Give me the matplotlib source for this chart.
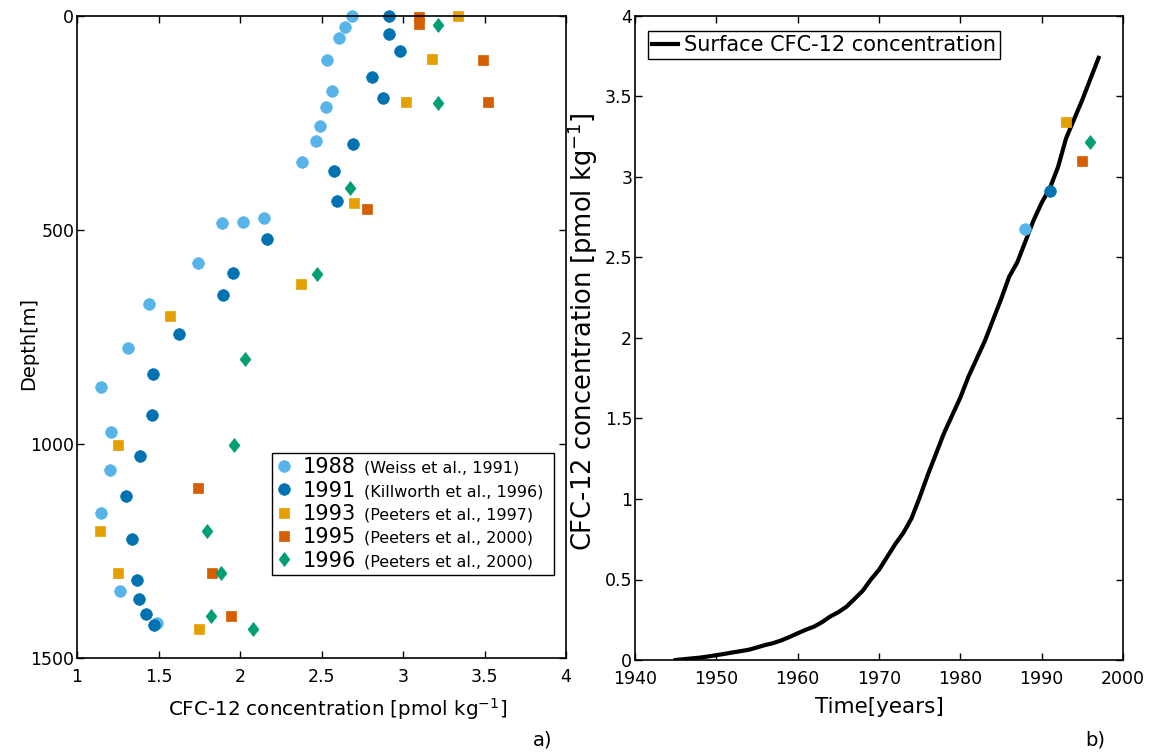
import matplotlib
matplotlib.use("Agg")
import matplotlib.pyplot as plt
from matplotlib.path import Path

plt.rcParams['font.family'] = ['DejaVu Sans']
plt.rcParams['mathtext.fontset'] = 'dejavusans'

# --- panel a) : CFC-12 profiles ---
conc88 = [2.685, 2.646, 2.609, 2.536, 2.564, 2.528, 2.49, 2.464, 2.378, 2.147, 2.018, 1.892,
          1.742, 1.444, 1.311, 1.149, 1.21, 1.204, 1.147, 1.262, 1.493]
depth88 = [0, 25, 51, 102, 176, 212, 257, 291, 342, 471, 481, 483,
           576, 672, 776, 867, 972, 1061, 1162, 1343, 1418]

conc91 = [2.912, 2.912, 2.98, 2.81, 2.875, 2.693, 2.579, 2.593, 2.164, 1.959, 1.894,
          1.628, 1.468, 1.46, 1.387, 1.303, 1.339, 1.37, 1.38, 1.423, 1.474]
depth91 = [0, 41, 82, 142, 191, 298, 362, 432, 521, 601, 652,
           742, 836, 932, 1028, 1122, 1223, 1318, 1363, 1397, 1422]

conc93 = [3.339, 3.176, 3.02, 2.699, 2.374, 1.571, 1.253, 1.141, 1.253, 1.75]
depth93 = [0, 101, 202, 436, 627, 702, 1002, 1203, 1302, 1433]

conc95 = [3.1, 3.1, 3.491, 3.522, 2.779, 1.74, 1.826, 1.945]
depth95 = [2, 19, 102, 202, 451, 1103, 1302, 1403]

conc96 = [3.217, 3.217, 2.677, 2.47, 2.031, 1.965, 1.8, 1.882, 1.82, 2.078]
depth96 = [21, 203, 402, 602, 802, 1002, 1203, 1302, 1403, 1433]

years = ['1988', '1991', '1993', '1995', '1996']
refs = ['(Weiss et al., 1991)', '(Killworth et al., 1996)', '(Peeters et al., 1997)',
        '(Peeters et al., 2000)', '(Peeters et al., 2000)']

# --- panel b) : surface history ---
t_surf = list(range(1945, 1998))
c_surf = [0.0, 0.005, 0.01, 0.015, 0.022, 0.03, 0.038, 0.047, 0.055, 0.064,
          0.078, 0.093, 0.105, 0.122, 0.143, 0.166, 0.188, 0.207, 0.235, 0.27,
          0.297, 0.331, 0.38, 0.43, 0.5, 0.56, 0.64, 0.72, 0.79, 0.88,
          1.01, 1.15, 1.28, 1.41, 1.52, 1.63, 1.76, 1.87, 1.98, 2.11,
          2.24, 2.38, 2.47, 2.6, 2.73, 2.84, 2.93, 3.06, 3.24, 3.36,
          3.48, 3.61, 3.74]
obs_year = [1988, 1991, 1993, 1995, 1996]
obs_conc = [2.68, 2.91, 3.34, 3.10, 3.22]

colors = ['#56B4E9', '#0072B2', '#E69F00', '#D55E00', '#009E73']
diamond = Path([(0, 1), (0.78, 0), (0, -1), (-0.78, 0), (0, 1)],
               [Path.MOVETO, Path.LINETO, Path.LINETO, Path.LINETO, Path.CLOSEPOLY])
markers = ['o', 'o', 's', 's', diamond]
msizes = [8.4, 8.4, 7.0, 7.0, 10.0]

fig = plt.figure(figsize=(11.51, 7.52), dpi=100)
ax1 = fig.add_axes([77/1151, 94/752, 489/1151, 642/752])
ax2 = fig.add_axes([635/1151, 92/752, 488/1151, 644/752])

profiles = [(conc88, depth88), (conc91, depth91), (conc93, depth93),
            (conc95, depth95), (conc96, depth96)]
for i, (c, d) in enumerate(profiles):
    ax1.plot(c, d, linestyle='none', marker=markers[i], ms=msizes[i], color=colors[i],
             mec=colors[i], mew=0.5, clip_on=False, label=years[i])

ax1.set_xlim(1, 4)
ax1.set_ylim(1500, 0)
ax1.set_xticks([1, 1.5, 2, 2.5, 3, 3.5, 4])
ax1.set_xticklabels(['1', '1.5', '2', '2.5', '3', '3.5', '4'])
ax1.set_yticks([0, 500, 1000, 1500])
ax1.set_xlabel('CFC-12 concentration [pmol kg$^{-1}$]', fontsize=14.3)
ax1.set_ylabel('Depth[m]', fontsize=14)
ax1.xaxis.set_label_coords(0.533, -0.06)
ax1.yaxis.set_label_coords(-0.08, 0.49)

leg1 = ax1.legend(loc='upper left', bbox_to_anchor=(0.399, 0.131, 0.576, 0.188), mode='expand',
                  fontsize=15, numpoints=1, handlelength=0.7, handletextpad=0.55,
                  labelspacing=0.16, borderpad=0.2, borderaxespad=0, fancybox=False,
                  framealpha=1, edgecolor='black')
leg1.get_frame().set_linewidth(1.0)
for txt, r in zip(leg1.get_texts(), refs):
    ax1.annotate(r, xy=(1, 0), xycoords=txt, xytext=(6, 1), textcoords='offset points',
                 fontsize=11.5, va='bottom', ha='left', zorder=10)

ax2.plot(t_surf, c_surf, color='black', lw=3, label='Surface CFC-12 concentration')
for i in range(len(obs_year)):
    ax2.plot(obs_year[i], obs_conc[i], linestyle='none', marker=markers[i], ms=msizes[i],
             color=colors[i], mec=colors[i], mew=0.5)
ax2.set_xlim(1940, 2000)
ax2.set_ylim(0, 4)
ax2.set_yticks([0, 0.5, 1, 1.5, 2, 2.5, 3, 3.5, 4])
ax2.set_yticklabels(['0', '0.5', '1', '1.5', '2', '2.5', '3', '3.5', '4'])
ax2.set_xlabel('Time[years]', fontsize=15.5)
ax2.set_ylabel('CFC-12 concentration [pmol kg$^{-1}$]', fontsize=18.5)
ax2.xaxis.set_label_coords(0.5, -0.058)
ax2.yaxis.set_label_coords(-0.072, 0.51)
leg2 = ax2.legend(handles=ax2.lines[:1], loc='upper left', bbox_to_anchor=(0.027, 0.977),
                  fontsize=15, handlelength=1.25, handletextpad=0.25, borderpad=0.2,
                  borderaxespad=0, fancybox=False, framealpha=1, edgecolor='black')
leg2.get_frame().set_linewidth(1.0)

for ax in (ax1, ax2):
    ax.tick_params(direction='in', top=True, right=True, length=5, width=1,
                   labelsize=12.5)
    ax.tick_params(axis='x', pad=7.5)
    ax.tick_params(axis='y', pad=2)
    for s in ax.spines.values():
        s.set_linewidth(1.2)

fig.text(543/1151, 1 - 740/752, 'a)', fontsize=14, ha='center', va='center')
fig.text(1095/1151, 1 - 740/752, 'b)', fontsize=14, ha='center', va='center')

fig.savefig('out.png', dpi=100)
